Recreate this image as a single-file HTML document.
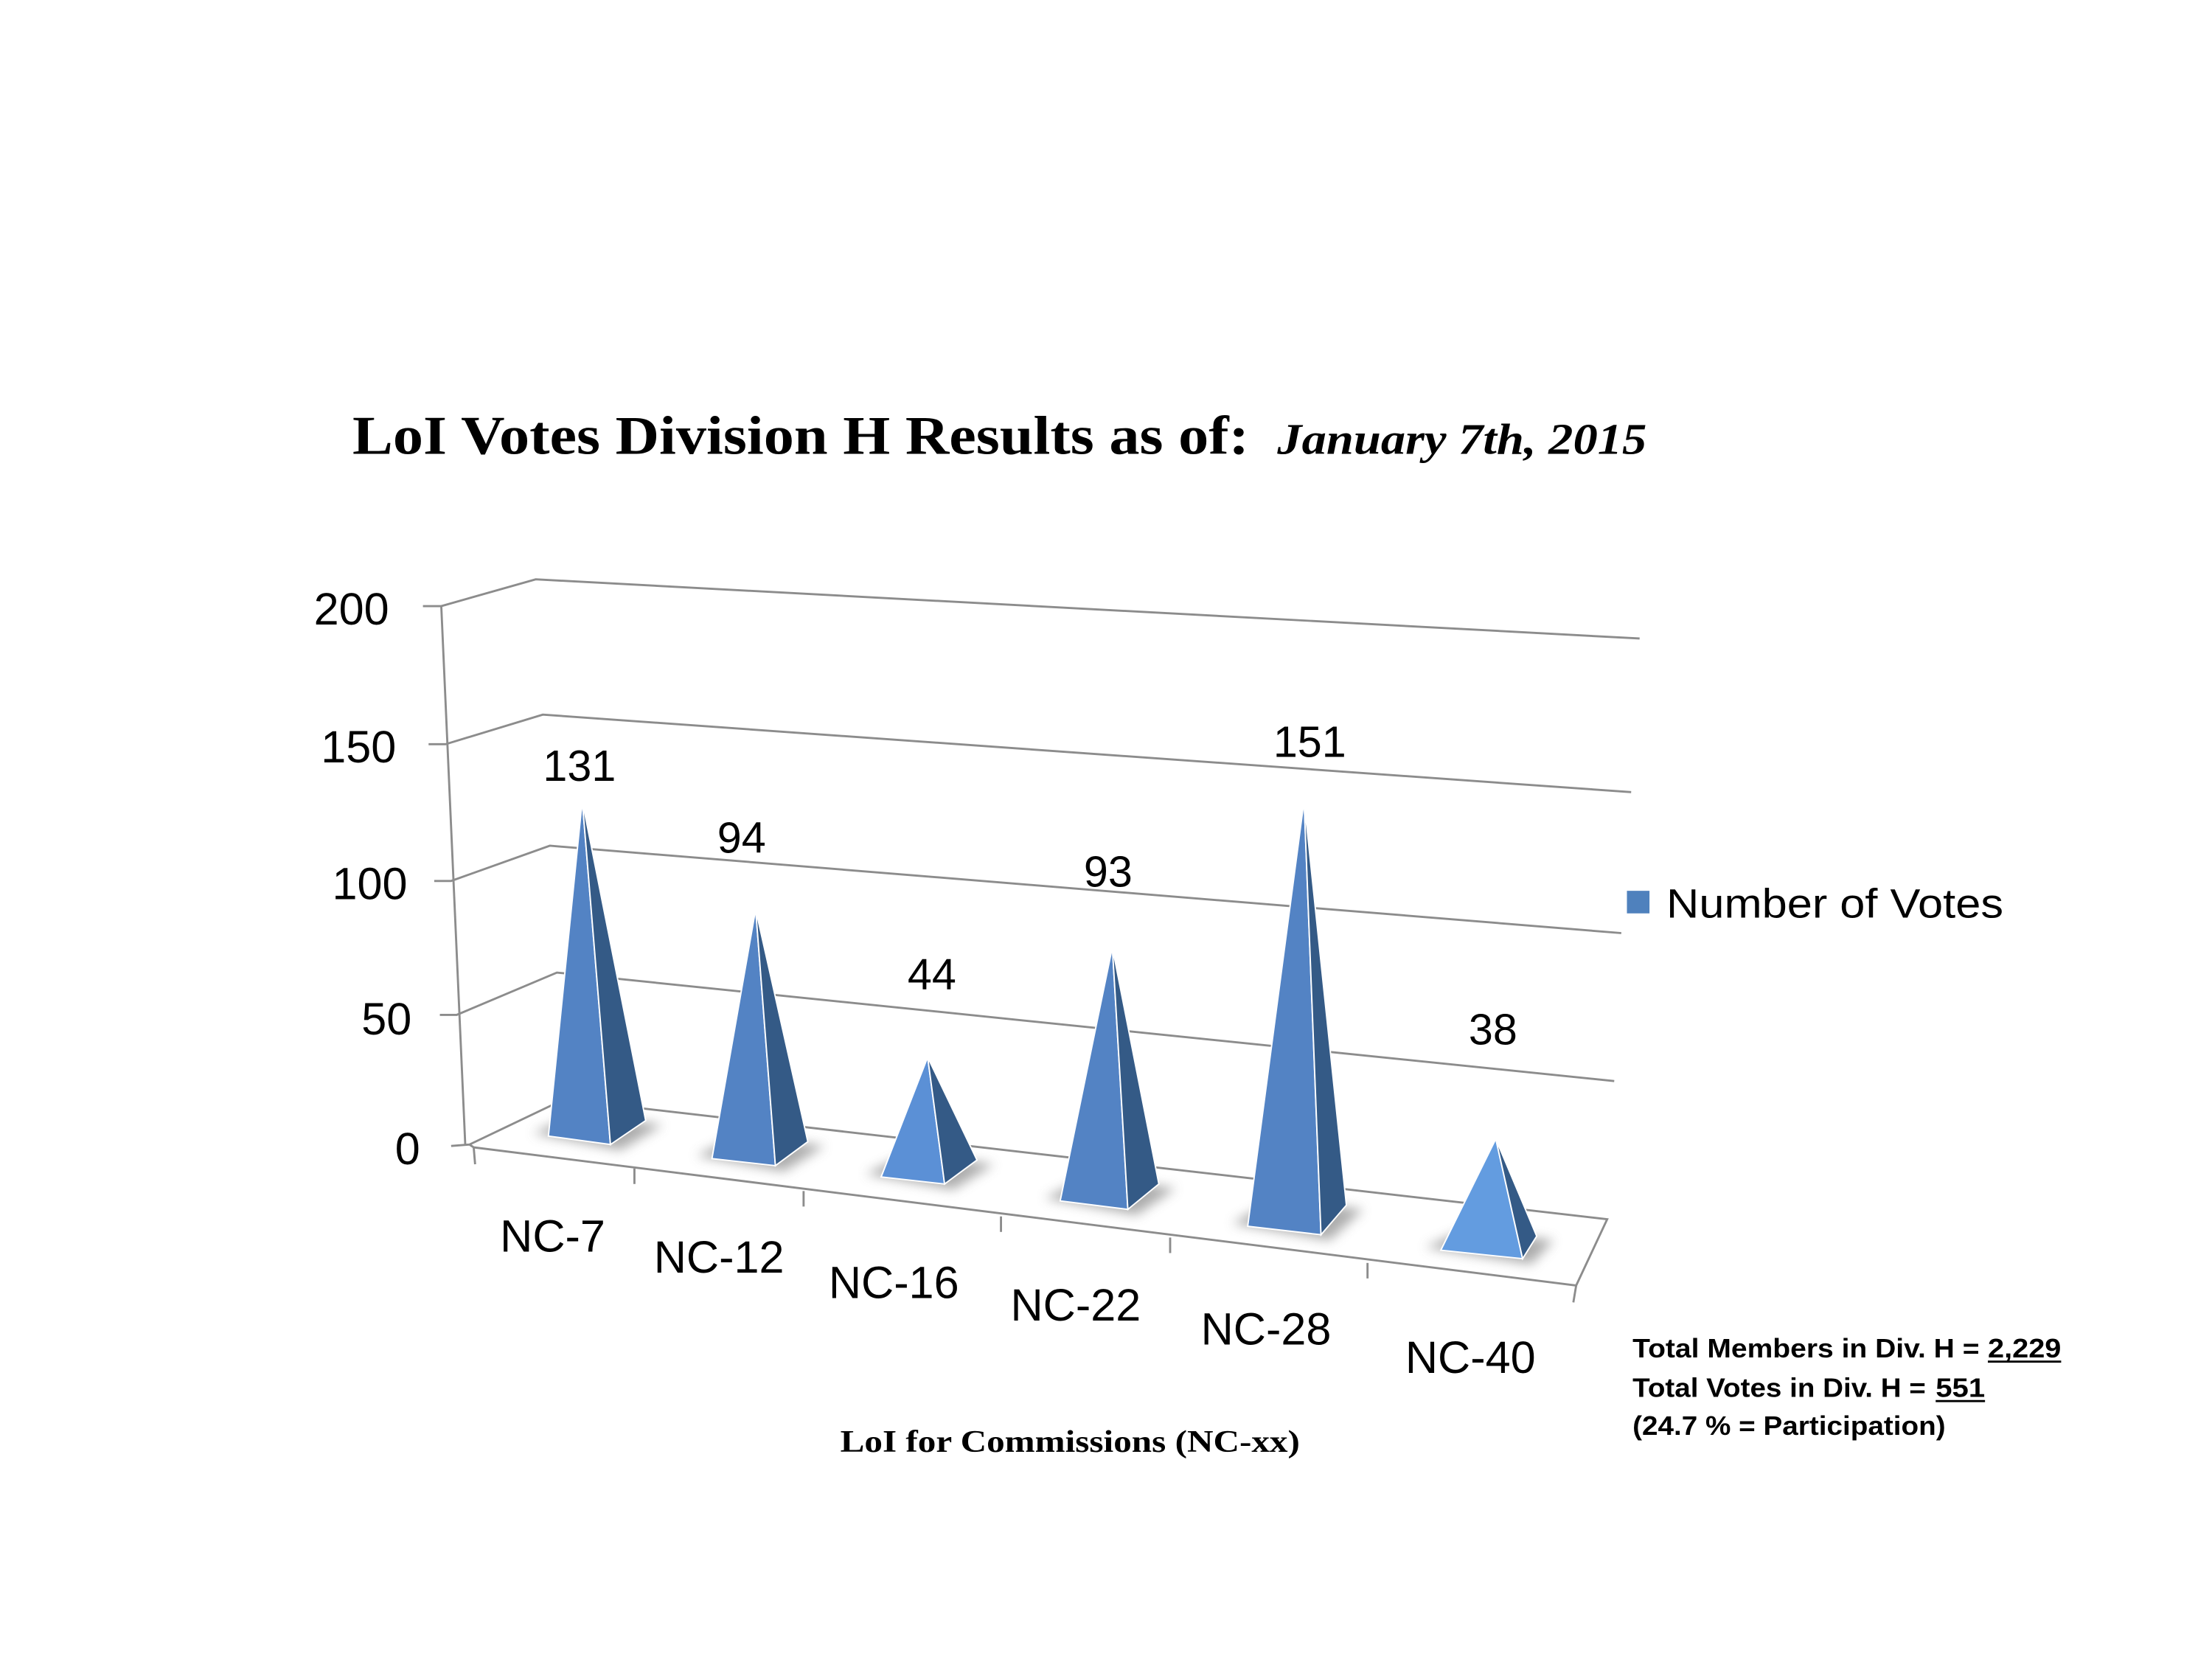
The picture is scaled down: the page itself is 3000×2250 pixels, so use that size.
<!DOCTYPE html>
<html><head><meta charset="utf-8"><style>html,body{margin:0;padding:0;background:#fff}svg{display:block}</style></head>
<body>
<svg width="3000" height="2250" viewBox="0 0 1569 1177" preserveAspectRatio="none" xmlns="http://www.w3.org/2000/svg">
<defs>
<filter id="sh" x="-50%" y="-50%" width="200%" height="200%"><feGaussianBlur stdDeviation="4"/></filter>
</defs>
<rect x="0" y="0" width="1600" height="1200" fill="#fff"/>
<text x="250" y="322" font-family="Liberation Serif, serif" font-weight="bold" font-size="39" textLength="636" lengthAdjust="spacingAndGlyphs">LoI Votes Division H Results as of:</text>
<text x="906" y="322" font-family="Liberation Serif, serif" font-weight="bold" font-style="italic" font-size="31" textLength="262" lengthAdjust="spacingAndGlyphs">January 7th, 2015</text>
<g stroke="#8c8c8c" stroke-width="1.5" fill="none">
<polyline points="300,430 313,430 380,411 1163,453"/>
<polyline points="304,528 316,528 385,507 1157,562"/>
<polyline points="308,625 320,625 390,600 1150,662"/>
<polyline points="312,720 324,720 395,690 1145,767"/>
<polyline points="320,813 333,812 400,780 1140,865 1118,912 336,814 333,812"/>
<line x1="313" y1="430" x2="330" y2="812"/>
<line x1="336" y1="814" x2="337" y2="826"/>
<line x1="1118" y1="912" x2="1116" y2="924"/>
<line x1="450" y1="829" x2="450" y2="840"/>
<line x1="570" y1="845" x2="570" y2="856"/>
<line x1="710" y1="863" x2="710" y2="874"/>
<line x1="830" y1="878" x2="830" y2="889"/>
<line x1="970" y1="896" x2="970" y2="907"/>
</g>
<g fill="#999" filter="url(#sh)" opacity="0.8">
<polygon points="378,804 440,816 470,798 410,790"/>
<polygon points="494,820 556,831 585,813 525,805"/>
<polygon points="614,833 676,844 705,826 645,818"/>
<polygon points="741,850 806,862 834,843 772,835"/>
<polygon points="874,868 943,880 967,858 905,851"/>
<polygon points="1011,885 1086,897 1102,880 1040,872"/>
</g>
<g stroke="#fff" stroke-width="1">
<polygon points="413,568 389,806 433,812" fill="#5383c4"/><polygon points="413,568 433,812 458,795" fill="#345a86"/>
<polygon points="536,645 505,822 550,827" fill="#5383c4"/><polygon points="536,645 550,827 573,810" fill="#345a86"/>
<polygon points="658,750 625,835 670,840" fill="#5b90d6"/><polygon points="658,750 670,840 693,823" fill="#345a86"/>
<polygon points="789,672 752,852 800,858" fill="#5383c4"/><polygon points="789,672 800,858 822,840" fill="#345a86"/>
<polygon points="925,568 885,870 937,876" fill="#5383c4"/><polygon points="925,568 937,876 955,855" fill="#345a86"/>
<polygon points="1061,808 1022,887 1080,893" fill="#639ce0"/><polygon points="1061,808 1080,893 1090,877" fill="#345a86"/>
</g>
<g font-family="Liberation Sans, sans-serif" font-size="31" fill="#000" text-anchor="middle">
<text x="411" y="554">131</text><text x="526" y="605">94</text><text x="661" y="702">44</text>
<text x="786" y="629">93</text><text x="929" y="537">151</text><text x="1059" y="741">38</text>
</g>
<g font-family="Liberation Sans, sans-serif" font-size="32" fill="#000" text-anchor="end">
<text x="276" y="443">200</text><text x="281" y="541">150</text><text x="289" y="638">100</text><text x="292" y="734">50</text><text x="298" y="826">0</text>
</g>
<g font-family="Liberation Sans, sans-serif" font-size="32" fill="#000" text-anchor="middle">
<text x="392" y="888">NC-7</text><text x="510" y="903">NC-12</text><text x="634" y="921">NC-16</text>
<text x="763" y="937">NC-22</text><text x="898" y="954">NC-28</text><text x="1043" y="974">NC-40</text>
</g>
<rect x="1154" y="632" width="16" height="16" fill="#4f81bd"/>
<text x="1182" y="651" font-family="Liberation Sans, sans-serif" font-size="29" textLength="239" lengthAdjust="spacingAndGlyphs">Number of Votes</text>
<text x="596" y="1030" font-family="Liberation Serif, serif" font-weight="bold" font-size="22" textLength="326" lengthAdjust="spacingAndGlyphs">LoI for Commissions (NC-xx)</text>
<g font-family="Liberation Sans, sans-serif" font-weight="bold" font-size="19">
<text x="1158" y="963" textLength="246" lengthAdjust="spacingAndGlyphs">Total Members in Div. H =</text>
<text x="1410" y="963" textLength="52" lengthAdjust="spacingAndGlyphs">2,229</text>
<text x="1158" y="991" textLength="208" lengthAdjust="spacingAndGlyphs">Total Votes in Div. H =</text>
<text x="1373" y="991" textLength="35" lengthAdjust="spacingAndGlyphs">551</text>
<text x="1158" y="1018" textLength="222" lengthAdjust="spacingAndGlyphs">(24.7 % = Participation)</text>
</g>
<line x1="1410" y1="966" x2="1462" y2="966" stroke="#000" stroke-width="1.5"/>
<line x1="1373" y1="994" x2="1408" y2="994" stroke="#000" stroke-width="1.5"/>
</svg>
</body></html>
